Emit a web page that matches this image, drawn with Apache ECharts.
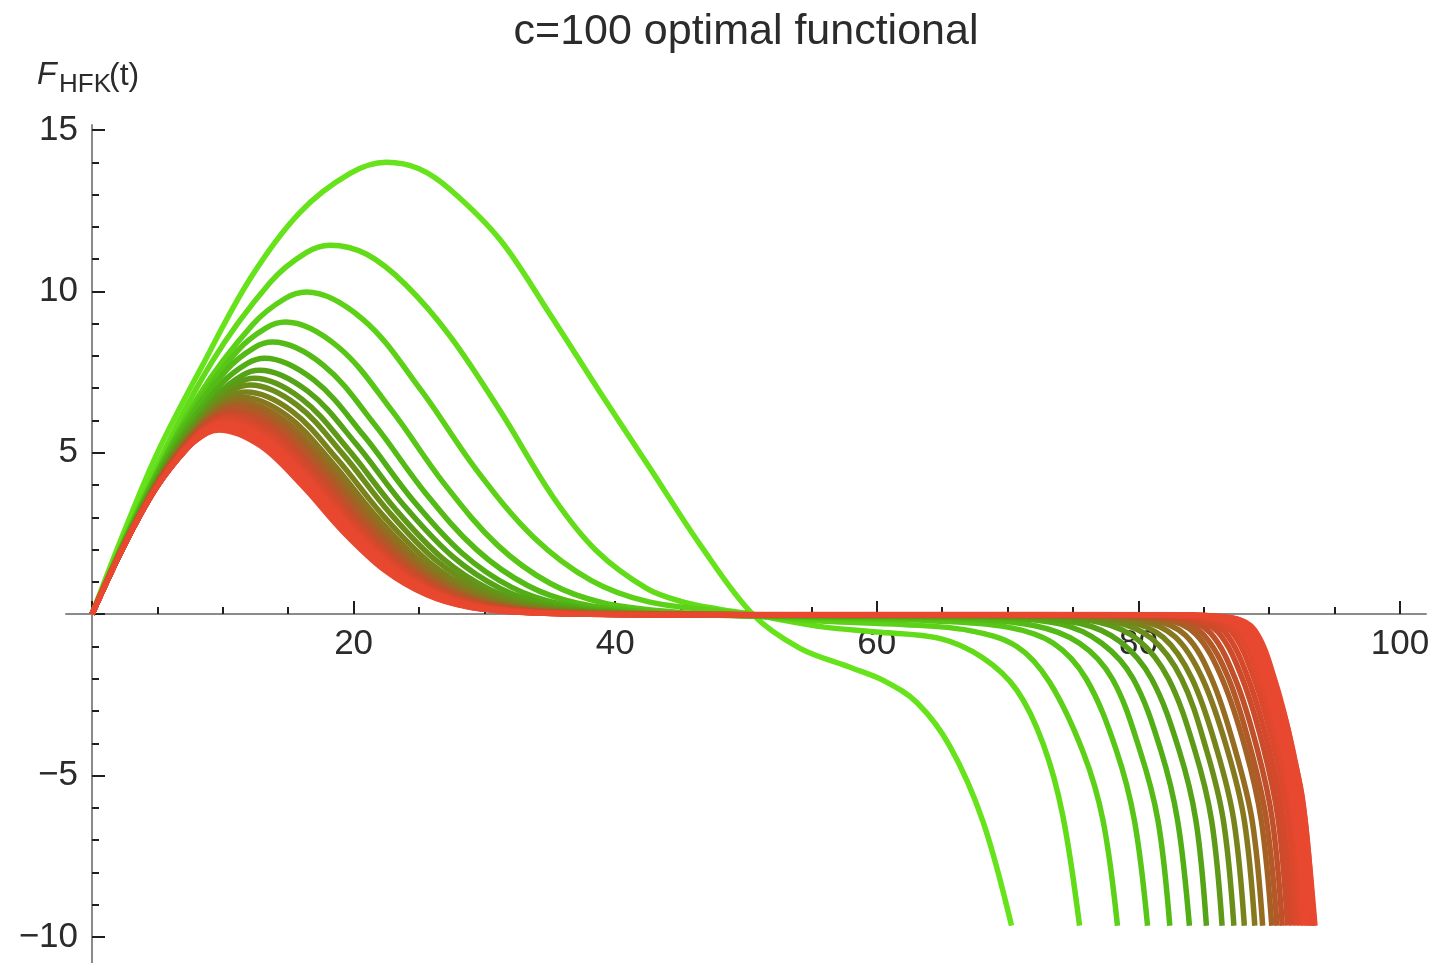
<!DOCTYPE html>
<html><head><meta charset="utf-8">
<script src="https://cdn.jsdelivr.net/npm/echarts/dist/echarts.min.js"></script>
<style>html,body{margin:0;padding:0;background:#fff}#c{width:1435px;height:963px}</style>
</head><body><div id="c"></div><script>
const chartTitle = 'c=100 optimal functional';
const xTickLabels = [20, 40, 60, 80, 100];
const yTickLabels = [-10, -5, 5, 10, 15];

const curve01 = [[0,0],[2.5,2.6],[5,5.0],[8.3,7.6],[12.1,10.4],[15.9,12.45],[19.7,13.65],[22.5,14.0],[25,13.8],[27.4,13.15],[31.2,11.6],[35,9.3],[38.8,6.9],[42.7,4.5],[46.5,2.15],[50.5,0],[54.1,-1.05],[58,-1.65],[60.5,-2.05],[63.1,-2.75],[65.6,-4.1],[68.1,-6.4],[70.3,-9.65]];
const curve02 = [[0,0],[4.55,4.23],[9.1,7.77],[13.65,10.29],[16.38,11.2],[18.2,11.43],[21,11.15],[24,10.2],[27.4,8.6],[31.2,6.3],[35.3,3.6],[38.6,1.95],[42.4,0.8],[45,0.4],[48,0.15],[50.5,0],[53,-0.2],[56,-0.4],[60,-0.55],[64.8,-0.75],[68.1,-1.35],[70.7,-2.35],[72.7,-4.0],[74.2,-6.2],[75.5,-9.65]];
const curve03 = [[0,0],[4.1,3.69],[8.2,6.79],[12.3,8.98],[14.76,9.78],[16.4,9.98],[20.75,9.12],[25.1,6.97],[29.45,4.44],[33.8,2.37],[38.15,1.05],[42.5,0.39],[48.3,0.08],[52,-0.1],[56,-0.22],[62,-0.32],[67,-0.5],[70.7,-1.0],[73.2,-2.1],[75.8,-4.3],[77.3,-6.4],[78.4,-9.65]];
const curve04 = [[0,0],[3.7,3.35],[7.4,6.15],[11.1,8.15],[13.32,8.87],[14.8,9.05],[18.85,8.27],[22.9,6.32],[26.95,4.03],[31.0,2.14],[35.05,0.95],[39.1,0.35],[44.5,0.07],[50,-0.05],[56,-0.13],[64,-0.2],[70,-0.4],[73.5,-0.9],[76,-2.0],[78.3,-4.2],[79.7,-6.4],[80.7,-9.65]];
const curve05 = [[0,0],[3.45,3.12],[6.9,5.73],[10.35,7.59],[12.42,8.26],[13.8,8.43],[17.7,7.71],[21.6,5.88],[25.5,3.75],[29.4,2.0],[33.3,0.89],[37.2,0.33],[42.4,0.07],[48,-0.03],[56,-0.09],[66,-0.14],[72,-0.35],[75.5,-0.9],[78,-2.0],[80.1,-4.2],[81.5,-6.4],[82.4,-9.65]];
const curve06 = [[0,0],[3.3,2.93],[6.6,5.39],[9.9,7.14],[11.88,7.77],[13.2,7.93],[16.98,7.25],[20.76,5.54],[24.54,3.53],[28.32,1.88],[32.1,0.83],[35.88,0.31],[40.92,0.06],[47,-0.02],[56,-0.06],[68,-0.1],[74,-0.3],[77.2,-0.9],[79.6,-2.0],[81.7,-4.2],[83,-6.4],[83.9,-9.65]];
const curve07 = [[0,0],[3.2,2.8],[6.4,5.14],[9.6,6.8],[11.52,7.41],[12.8,7.56],[16.49,6.91],[20.18,5.28],[23.87,3.36],[27.56,1.79],[31.25,0.79],[34.94,0.29],[39.86,0.06],[46,-0.02],[56,-0.05],[70,-0.08],[75.5,-0.28],[78.6,-0.85],[81,-2.0],[83.1,-4.2],[84.4,-6.4],[85.2,-9.65]];
const curve08 = [[0,0],[3.1,2.7],[6.2,4.97],[9.3,6.58],[11.16,7.16],[12.4,7.31],[16.0,6.68],[19.6,5.1],[23.2,3.25],[26.8,1.73],[30.4,0.77],[34.0,0.29],[38.8,0.06],[45,-0.01],[56,-0.04],[72,-0.07],[77,-0.25],[80,-0.8],[82.3,-2.0],[84.3,-4.2],[85.6,-6.4],[86.4,-9.65]];
const curve09 = [[0,0],[3.03,2.63],[6.05,4.83],[9.08,6.39],[10.89,6.96],[12.1,7.1],[15.64,6.49],[19.18,4.96],[22.72,3.16],[26.26,1.68],[29.8,0.75],[33.34,0.28],[38.06,0.06],[44,-0.01],[56,-0.03],[73,-0.06],[78,-0.22],[81,-0.75],[83.3,-2.0],[85.2,-4.2],[86.5,-6.4],[87.3,-9.65]];
const curve10 = [[0,0],[2.95,2.55],[5.9,4.68],[8.85,6.19],[10.62,6.74],[11.8,6.88],[15.28,6.29],[18.76,4.8],[22.24,3.06],[25.72,1.63],[29.2,0.72],[32.68,0.27],[37.32,0.06],[43,-0.01],[56,-0.03],[74,-0.05],[79,-0.2],[81.9,-0.72],[84.1,-2.0],[86,-4.2],[87.3,-6.4],[88.1,-9.65]];
const curve11 = [[0,0],[2.88,2.49],[5.75,4.57],[8.63,6.05],[10.35,6.59],[11.5,6.72],[14.94,6.14],[18.37,4.69],[21.81,2.99],[25.24,1.59],[28.68,0.71],[32.11,0.26],[36.69,0.05],[43,-0.01],[56,-0.02],[75,-0.05],[80,-0.18],[82.8,-0.7],[84.9,-2.0],[86.8,-4.2],[88.1,-6.4],[88.9,-9.65]];
const curve12 = [[0,0],[2.83,2.43],[5.65,4.47],[8.48,5.92],[10.17,6.45],[11.3,6.58],[14.69,6.01],[18.08,4.59],[21.47,2.93],[24.86,1.56],[28.25,0.69],[31.64,0.26],[36.16,0.05],[42,-0.01],[56,-0.02],[76,-0.04],[81,-0.17],[83.6,-0.65],[85.6,-2.0],[87.4,-4.2],[88.7,-6.4],[89.5,-9.65]];
const curve13 = [[0,0],[2.78,2.39],[5.55,4.4],[8.33,5.82],[9.99,6.34],[11.1,6.47],[14.46,5.91],[17.82,4.52],[21.18,2.88],[24.54,1.53],[27.9,0.68],[31.26,0.25],[35.74,0.05],[42,-0.01],[56,-0.02],[77,-0.04],[82,-0.16],[84.4,-0.62],[86.4,-2.0],[88.2,-4.2],[89.4,-6.4],[90.2,-9.65]];
const curve14 = [[0,0],[2.73,2.36],[5.45,4.33],[8.18,5.73],[9.81,6.24],[10.9,6.37],[14.23,5.82],[17.56,4.45],[20.89,2.83],[24.22,1.51],[27.55,0.67],[30.88,0.25],[35.32,0.05],[42,-0.01],[60,-0.02],[78,-0.03],[82.6,-0.15],[84.9,-0.6],[86.9,-2.0],[88.6,-4.2],[89.8,-6.4],[90.6,-9.65]];
const curve15 = [[0,0],[2.69,2.32],[5.38,4.26],[8.06,5.64],[9.68,6.14],[10.75,6.27],[14.05,5.73],[17.35,4.38],[20.65,2.79],[23.95,1.49],[27.25,0.66],[30.55,0.24],[34.95,0.05],[42,-0.01],[60,-0.02],[79,-0.03],[83.3,-0.14],[85.5,-0.58],[87.4,-2.0],[89.1,-4.2],[90.25,-6.4],[91.0,-9.65]];
const curve16 = [[0,0],[2.65,2.29],[5.3,4.2],[7.95,5.56],[9.54,6.06],[10.6,6.18],[13.89,5.65],[17.17,4.31],[20.46,2.75],[23.74,1.46],[27.03,0.65],[30.31,0.24],[34.69,0.05],[41,-0.01],[60,-0.02],[80,-0.03],[84,-0.14],[86.1,-0.56],[87.95,-2.0],[89.6,-4.2],[90.7,-6.4],[91.4,-9.65]];
const curve17 = [[0,0],[2.61,2.26],[5.23,4.15],[7.84,5.49],[9.41,5.98],[10.45,6.1],[13.72,5.58],[16.99,4.26],[20.26,2.71],[23.53,1.45],[26.8,0.64],[30.07,0.24],[34.43,0.05],[41,-0.01],[60,-0.02],[80.5,-0.03],[84.6,-0.13],[86.6,-0.54],[88.4,-2.0],[90,-4.2],[91.07,-6.4],[91.75,-9.65]];
const curve18 = [[0,0],[2.58,2.23],[5.15,4.1],[7.73,5.43],[9.27,5.91],[10.3,6.03],[13.56,5.51],[16.81,4.21],[20.07,2.68],[23.32,1.43],[26.58,0.63],[29.83,0.24],[34.17,0.05],[41,-0.01],[60,-0.02],[81,-0.03],[85.1,-0.13],[87.1,-0.53],[88.85,-2.0],[90.4,-4.2],[91.45,-6.4],[92.1,-9.65]];
const curve19 = [[0,0],[2.55,2.21],[5.1,4.05],[7.65,5.36],[9.18,5.84],[10.2,5.96],[13.44,5.45],[16.68,4.16],[19.92,2.65],[23.16,1.41],[26.4,0.63],[29.64,0.23],[33.96,0.05],[41,-0.01],[60,-0.02],[81.5,-0.03],[85.6,-0.12],[87.55,-0.52],[89.25,-2.0],[90.75,-4.2],[91.8,-6.4],[92.4,-9.65]];
const curve20 = [[0,0],[2.53,2.18],[5.05,4.01],[7.58,5.31],[9.09,5.78],[10.1,5.9],[13.33,5.39],[16.55,4.12],[19.78,2.63],[23.0,1.4],[26.23,0.62],[29.45,0.23],[33.75,0.05],[41,-0.01],[60,-0.02],[82,-0.03],[86,-0.12],[87.9,-0.5],[89.55,-2.0],[91.05,-4.2],[92.05,-6.4],[92.65,-9.65]];
const curve21 = [[0,0],[2.5,2.16],[5.0,3.98],[7.5,5.27],[9.0,5.73],[10.0,5.85],[13.21,5.35],[16.42,4.08],[19.63,2.6],[22.84,1.39],[26.05,0.61],[29.26,0.23],[33.54,0.05],[41,-0.01],[60,-0.02],[82.5,-0.03],[86.4,-0.11],[88.25,-0.48],[89.85,-2.0],[91.3,-4.2],[92.3,-6.4],[92.9,-9.65]];
const curve22 = [[0,0],[2.48,2.15],[4.95,3.94],[7.43,5.22],[8.91,5.68],[9.9,5.8],[13.1,5.3],[16.3,4.05],[19.5,2.58],[22.7,1.37],[25.9,0.61],[29.1,0.23],[33.37,0.05],[40,-0.01],[60,-0.02],[83,-0.03],[86.8,-0.11],[88.6,-0.47],[90.15,-2.0],[91.55,-4.2],[92.5,-6.4],[93.1,-9.65]];
const curve23 = [[0,0],[2.46,2.13],[4.91,3.92],[7.37,5.18],[8.84,5.64],[9.82,5.76],[13.02,5.26],[16.21,4.02],[19.41,2.56],[22.6,1.37],[25.8,0.6],[28.99,0.22],[33.25,0.05],[40,-0.01],[60,-0.02],[83.3,-0.03],[87.0,-0.1],[88.7,-0.46],[90.25,-2.0],[91.65,-4.2],[92.6,-6.4],[93.25,-9.65]];
const curve24 = [[0,0],[2.44,2.12],[4.88,3.9],[7.31,5.16],[8.78,5.62],[9.75,5.73],[12.94,5.24],[16.12,4.0],[19.31,2.55],[22.49,1.36],[25.68,0.6],[28.87,0.22],[33.11,0.05],[40,-0.01],[60,-0.02],[83.6,-0.03],[87.2,-0.12],[88.9,-0.5],[90.4,-2.0],[91.8,-4.2],[92.75,-6.4],[93.4,-9.65]];
const curve25 = [[0,0],[2.43,2.11],[4.85,3.88],[7.28,5.14],[8.73,5.6],[9.7,5.71],[12.88,5.22],[16.06,3.99],[19.24,2.54],[22.42,1.35],[25.6,0.6],[28.78,0.22],[33.02,0.05],[40,-0.01],[60,-0.01],[84,-0.02],[86,-0.08],[87.5,-0.25],[89.1,-0.9],[90.1,-1.95],[91.2,-3.2],[91.9,-4.45],[92.5,-5.6],[93,-7.4],[93.5,-9.65]];

const curves = [curve01,curve02,curve03,curve04,curve05,curve06,curve07,curve08,curve09,curve10,curve11,curve12,curve13,curve14,curve15,curve16,curve17,curve18,curve19,curve20,curve21,curve22,curve23,curve24,curve25];
const curveColors = ['#66e31a','#62db19','#5dd118','#58c617','#54ba16','#51ae15','#55a316','#5f9918','#6b8e1a','#79831c','#87781f','#966c22','#a56125','#b35827','#c05029','#cb4b2a','#d4492b','#dc482c','#e2482e','#e8482f','#e8482f','#e8482f','#e8482f','#e8482f','#e8482f'];

const FONT = '"Liberation Sans", Arial, Helvetica, sans-serif';
const TXT = '#2b2b2b';
const AXC = '#8a8a8a';
const TICKC = '#1e1e1e';

const chart = echarts.init(document.getElementById('c'), null, {renderer: 'canvas'});

const series = curves.map((d, i) => ({
  type: 'line', xAxisIndex: 0, yAxisIndex: 0, data: d,
  symbol: 'none', showSymbol: false, smooth: 0.35,
  silent: true, z: 3 + i,
  lineStyle: {color: curveColors[i], width: 5.5, cap: 'butt', join: 'round'}
}));

const hidden = {show: false};
const option = {
  animation: false,
  backgroundColor: '#ffffff',
  grid: [
    {left: 92, right: 35, top: 130, bottom: 26, containLabel: false, outerBoundsMode: 'none'},
    {left: 66, right: 9, top: 125, bottom: 0, containLabel: false, outerBoundsMode: 'none'},
    {left: 92, right: 35, top: 130, bottom: 349, containLabel: false, outerBoundsMode: 'none'}
  ],
  xAxis: [
    {type: 'value', gridIndex: 0, min: 0, max: 100,
     axisLine: {show: false, onZero: false}, axisTick: hidden, axisLabel: hidden, splitLine: hidden},
    {type: 'value', gridIndex: 1, min: -2, max: 102,
     axisLine: {show: true, onZero: true, lineStyle: {color: AXC, width: 2}},
     axisTick: hidden, axisLabel: hidden, splitLine: hidden},
    {type: 'value', gridIndex: 2, min: 0, max: 100, interval: 20, position: 'bottom',
     axisLine: {show: false, onZero: false},
     axisTick: {show: true, inside: true, length: 13, lineStyle: {color: TICKC, width: 2}},
     minorTick: {show: true, splitNumber: 4, length: 7, lineStyle: {color: TICKC, width: 2}},
     splitLine: hidden,
     axisLabel: {show: true, margin: 13, fontSize: 35, color: TXT, fontFamily: FONT,
       formatter: v => xTickLabels.includes(v) ? String(v) : ''}}
  ],
  yAxis: [
    {type: 'value', gridIndex: 0, min: -10, max: 15, interval: 5, position: 'left',
     axisLine: {show: false, onZero: false},
     axisTick: {show: true, inside: true, length: 13, lineStyle: {color: TICKC, width: 2}},
     minorTick: {show: true, splitNumber: 5, length: 7, lineStyle: {color: TICKC, width: 2}},
     splitLine: hidden,
     axisLabel: {show: true, margin: 14, fontSize: 35, color: TXT, fontFamily: FONT,
       formatter: v => yTickLabels.includes(v) ? String(v).replace('-', '\u2212') : ''}},
    {type: 'value', gridIndex: 1, min: -10.85, max: 15.15,
     axisLine: {show: true, onZero: true, lineStyle: {color: AXC, width: 2}},
     axisTick: hidden, axisLabel: hidden, splitLine: hidden},
    {type: 'value', gridIndex: 2, min: 0, max: 15,
     axisLine: {show: false, onZero: false}, axisTick: hidden, axisLabel: hidden, splitLine: hidden}
  ],
  graphic: [
    {type: 'text', x: 746, y: 32, silent: true,
     style: {text: chartTitle, fill: TXT, font: '43px ' + FONT, textAlign: 'center', textVerticalAlign: 'middle'}},
    {type: 'text', x: 37, y: 75, silent: true,
     style: {text: 'F', fill: TXT, font: 'italic 32px ' + FONT, textAlign: 'left', textVerticalAlign: 'middle'}},
    {type: 'text', x: 59, y: 85, silent: true,
     style: {text: 'HFK', fill: TXT, font: '26px ' + FONT, textAlign: 'left', textVerticalAlign: 'middle'}},
    {type: 'text', x: 109, y: 76, silent: true,
     style: {text: '(t)', fill: TXT, font: '32px ' + FONT, textAlign: 'left', textVerticalAlign: 'middle'}}
  ],
  series: series
};
chart.setOption(option);
</script></body></html>
